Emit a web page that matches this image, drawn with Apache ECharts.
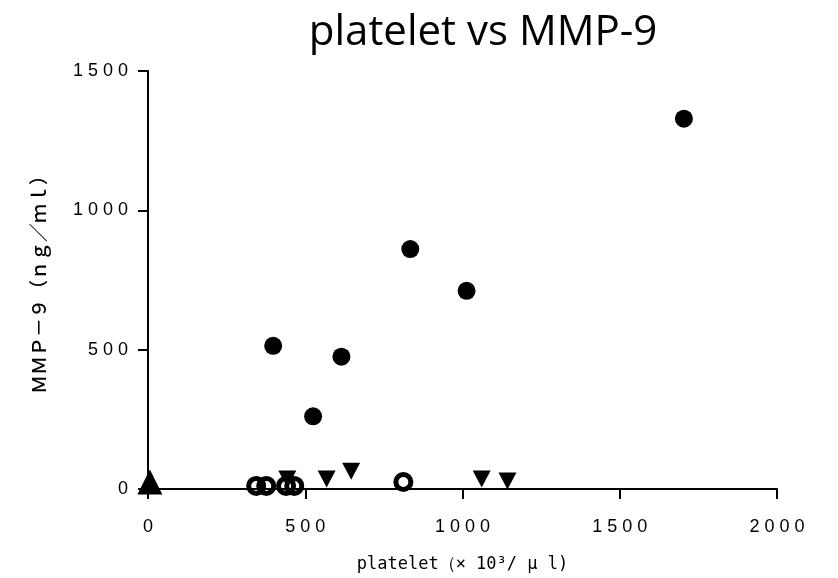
<!DOCTYPE html>
<html>
<head>
<meta charset="utf-8">
<title>platelet vs MMP-9</title>
<script src="https://cdn.jsdelivr.net/npm/echarts@6/dist/echarts.min.js"></script>
<style>
    html, body {margin: 0; padding: 0; background: #fff;}
    #chart {width: 838px; height: 578px;}
</style>
</head>
<body>
<div id="chart"></div>
<script>
// values: platelet (x10^3/ul), MMP-9 (ng/ml)
var filledX = [398, 525, 615, 834, 1013, 1704];
var filledY = [514, 261, 475, 861, 711, 1329];

var openX = [344, 376, 439, 465, 812];
var openY = [11, 11, 11, 11, 25];

var downX = [443, 568, 646, 1061, 1143];
var downY = [36, 36, 64, 36, 29];

var upX = [6];
var upY = [25];

var xTicks = [0, 500, 1000, 1500, 2000];
var yTicks = [0, 500, 1000, 1500];

function pairs(xs, ys) {
    var out = [];
    for (var i = 0; i < xs.length; i++) {
        out.push([xs[i], ys[i]]);
    }
    return out;
}

// tick labels in the picture are letter spaced
function spaced(v) {
    return String(v).split('').join(' ');
}

var axisLine = {lineStyle: {color: '#000', width: 2}};
var axisTick = {inside: false, length: 10, lineStyle: {color: '#000', width: 2}};
var markStyle = {color: '#000', opacity: 1};

var option = {
    animation: false,
    title: {
        text: 'platelet vs MMP-9',
        left: 478,
        textAlign: 'center',
        top: 7,
        textStyle: {fontFamily: 'Open Sans', fontSize: 42, fontWeight: 'normal', color: '#000'}
    },
    grid: {left: 148, right: 61, top: 71, bottom: 88, containLabel: false},
    xAxis: {
        type: 'value',
        min: xTicks[0],
        max: xTicks[xTicks.length - 1],
        interval: 500,
        name: 'platelet（× 10³/ μ l)',
        nameLocation: 'middle',
        nameGap: 67,
        nameTextStyle: {fontFamily: 'DejaVu Sans Mono', fontSize: 17, color: '#000'},
        axisLine: axisLine,
        axisTick: axisTick,
        splitLine: {show: false},
        axisLabel: {
            margin: 29,
            color: '#000',
            fontFamily: 'Liberation Sans',
            fontSize: 18,
            formatter: spaced
        }
    },
    yAxis: {
        type: 'value',
        min: yTicks[0],
        max: yTicks[yTicks.length - 1],
        interval: 500,
        name: 'ＭＭＰ－９（ｎｇ／ｍｌ）',
        nameLocation: 'middle',
        nameRotate: 90,
        nameGap: 100,
        nameTextStyle: {fontFamily: 'Noto Sans CJK JP', fontSize: 19, fontWeight: 500, color: '#000'},
        axisLine: axisLine,
        axisTick: axisTick,
        splitLine: {show: false},
        axisLabel: {
            margin: 20,
            color: '#000',
            fontFamily: 'Liberation Sans',
            fontSize: 18,
            formatter: spaced
        }
    },
    series: [
        {
            name: 'open',
            type: 'scatter',
            symbol: 'circle',
            symbolSize: 15,
            data: pairs(openX, openY),
            itemStyle: {color: 'rgba(0,0,0,0)', borderColor: '#000', borderWidth: 5, opacity: 1}
        },
        {
            name: 'down',
            type: 'scatter',
            symbol: 'triangle',
            symbolRotate: 180,
            symbolSize: [18, 17],
            data: pairs(downX, downY),
            itemStyle: markStyle
        },
        {
            name: 'up',
            type: 'scatter',
            symbol: 'triangle',
            symbolSize: [25, 25],
            data: pairs(upX, upY),
            itemStyle: markStyle
        },
        {
            name: 'filled',
            type: 'scatter',
            symbol: 'circle',
            symbolSize: 18,
            data: pairs(filledX, filledY),
            itemStyle: markStyle
        }
    ]
};

var chart = echarts.init(document.getElementById('chart'));
chart.setOption(option);
</script>
</body>
</html>
